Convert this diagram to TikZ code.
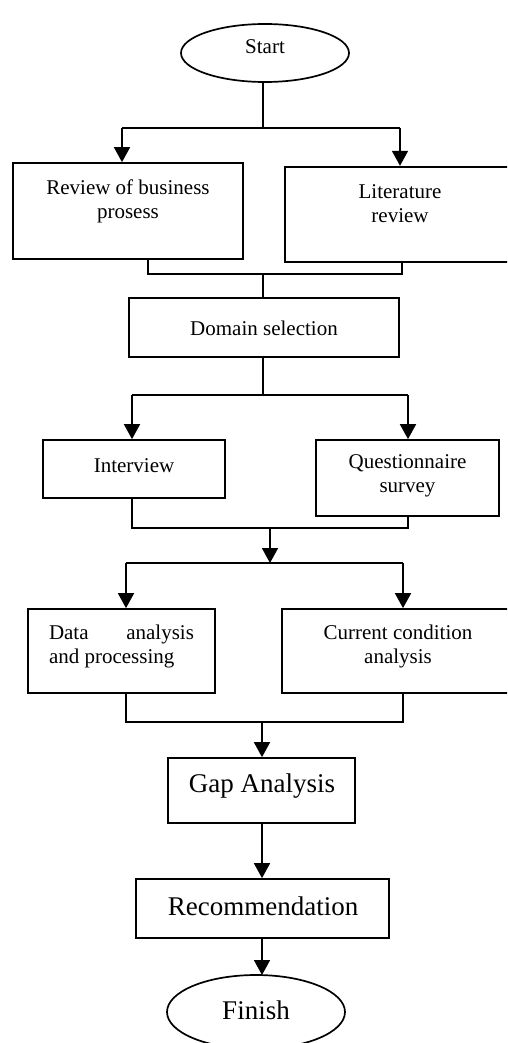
\documentclass[tikz,border=0pt]{standalone}
\usepackage{fontspec}
\setmainfont{Liberation Serif}
\usetikzlibrary{arrows.meta,shapes.geometric,calc}
\begin{document}
\begin{tikzpicture}[x=1pt,y=-1pt,
  line width=1.7pt,
  box/.style={draw, rectangle, inner sep=0pt},
  oval/.style={draw, ellipse, inner sep=0pt},
  txt/.style={align=center, inner sep=0pt, font=\fontsize{21}{24}\selectfont},
  bigtxt/.style={align=center, inner sep=0pt, font=\fontsize{27}{30}\selectfont},
  arr/.style={-{Triangle[width=16pt,length=15pt]}},
  ln/.style={-}]
\useasboundingbox (0,0) rectangle (507,1043);
\clip (0,0) rectangle (507,1043);
% nodes
\node[oval, minimum width=168pt, minimum height=58pt] (start) at (265,53) {};
\node[txt] at (265,47) {Start};
\node[box, minimum width=230pt, minimum height=96pt] (rev) at (128,211) {};
\node[txt] at (128,201) {Review of business\\prosess};
\node[box, line width=2.4pt, minimum width=227pt, minimum height=95pt] (lit) at (398.5,214.5) {};
\node[txt] at (400,204) {Literature\\review};
\node[box, line width=1.3pt, minimum width=270pt, minimum height=59pt] (dom) at (264,327.5) {};
\node[txt] at (264,328) {Domain selection};
\node[box, minimum width=182pt, minimum height=58pt] (int) at (134,469) {};
\node[txt] at (134,466) {Interview};
\node[box, minimum width=183pt, minimum height=76pt] (que) at (407.5,478) {};
\node[txt] at (407.5,476) {Questionnaire\\survey};
\node[box, minimum width=187pt, minimum height=84pt] (dat) at (121.5,651) {};
\node[txt, align=left] at (121.5,646) {\makebox[145pt][l]{Data\hfill analysis}\\and processing};
\node[box, minimum width=230pt, minimum height=84pt] (cur) at (397,651) {};
\node[txt] at (398,646) {Current condition\\analysis};
\node[box, minimum width=187pt, minimum height=65pt] (gap) at (261.5,790.5) {};
\node[bigtxt] at (262,786) {Gap Analysis};
\node[box, minimum width=253pt, minimum height=59pt] (rec) at (262.5,908.5) {};
\node[bigtxt] at (263,906) {Recommendation};
\node[oval, minimum width=178pt, minimum height=74pt] (fin) at (256,1012) {};
\node[bigtxt] at (256,1010) {Finish};
% junction coordinates
\coordinate (j1) at (263,128);
\coordinate (j1l) at (122,128);
\coordinate (j1r) at (400,128);
\coordinate (j2l) at (148,274);
\coordinate (j2r) at (402,274);
\coordinate (j2) at (263,274);
\coordinate (j3) at (263,395);
\coordinate (j3l) at (132,395);
\coordinate (j3r) at (408,395);
\coordinate (j4l) at (132,528);
\coordinate (j4r) at (408,528);
\coordinate (j4) at (270,528);
\coordinate (j5) at (270,563);
\coordinate (j5l) at (126,563);
\coordinate (j5r) at (403,563);
\coordinate (j6l) at (126,722);
\coordinate (j6r) at (403,722);
\coordinate (j6) at (262,722);
\coordinate (fintop) at (262,975);
% connectors
\draw[ln] (start.south -| j1) -- (j1);
\draw[ln] (j1l) -- (j1r);
\draw[arr] (j1l) -- (j1l |- rev.north);
\draw[arr] (j1r) -- (j1r |- lit.north);
\draw[ln] (j2l |- rev.south) -- (j2l) -- (j2r) -- (j2r |- lit.south);
\draw[ln] (j2) -- (dom.north -| j2);
\draw[ln] (dom.south -| j3) -- (j3);
\draw[ln] (j3l) -- (j3r);
\draw[arr] (j3l) -- (j3l |- int.north);
\draw[arr] (j3r) -- (j3r |- que.north);
\draw[ln] (j4l |- int.south) -- (j4l) -- (j4r) -- (j4r |- que.south);
\draw[arr] (j4) -- (j5);
\draw[ln] (j5l) -- (j5r);
\draw[arr] (j5l) -- (j5l |- dat.north);
\draw[arr] (j5r) -- (j5r |- cur.north);
\draw[ln] (j6l |- dat.south) -- (j6l) -- (j6r) -- (j6r |- cur.south);
\draw[arr] (j6) -- (j6 |- gap.north);
\draw[arr] (gap.south -| j6) -- (j6 |- rec.north);
\draw[arr] (rec.south -| j6) -- (fintop);
\end{tikzpicture}
\end{document}
